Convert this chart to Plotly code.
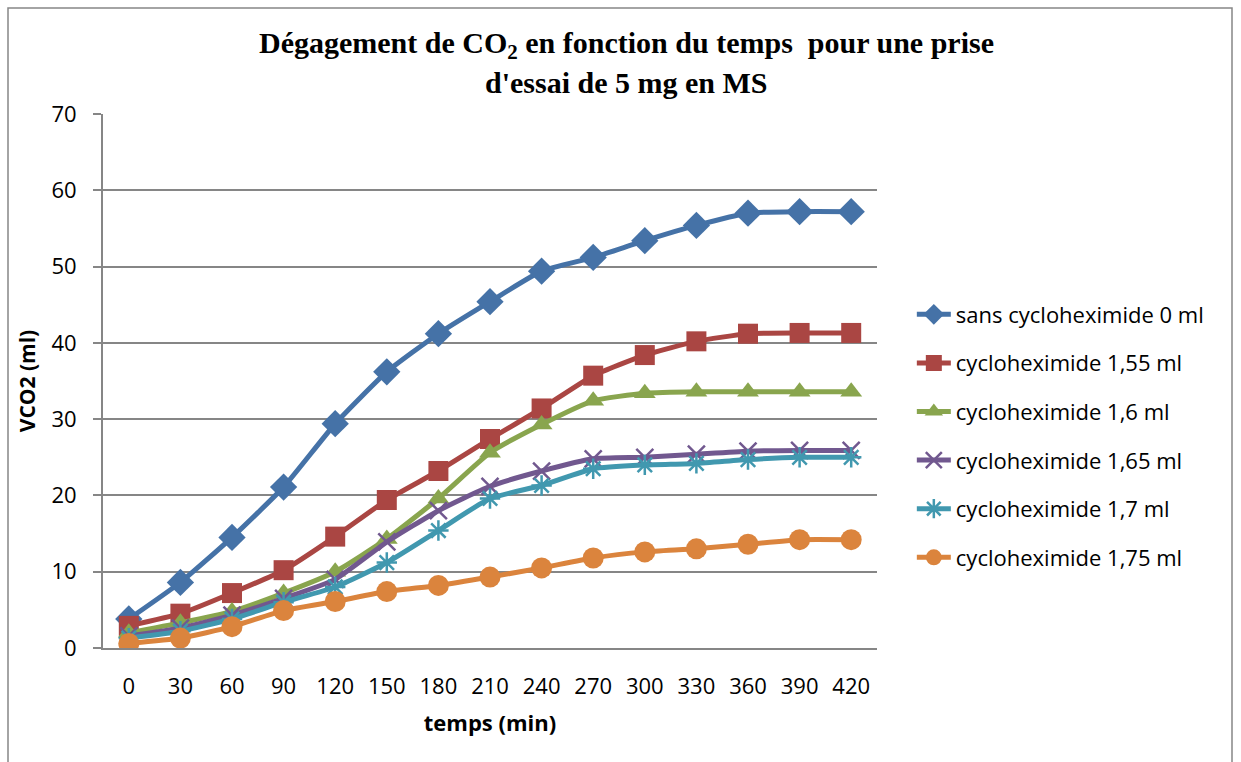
import plotly.graph_objects as go

temps = ["0", "30", "60", "90", "120", "150", "180", "210", "240", "270", "300", "330", "360", "390", "420"]

sans_0 = [3.8, 8.6, 14.5, 21.1, 29.4, 36.2, 41.2, 45.4, 49.4, 51.2, 53.4, 55.4, 57.0, 57.2, 57.2]
cyclo_155 = [2.9, 4.5, 7.2, 10.2, 14.6, 19.4, 23.2, 27.4, 31.4, 35.7, 38.4, 40.2, 41.2, 41.3, 41.3]
cyclo_160 = [2.0, 3.3, 4.8, 7.2, 10.0, 14.3, 19.6, 25.6, 29.3, 32.4, 33.4, 33.6, 33.6, 33.6, 33.6]
cyclo_165 = [1.6, 2.6, 4.3, 6.5, 9.0, 13.9, 18.0, 21.2, 23.2, 24.8, 25.0, 25.4, 25.8, 25.9, 25.9]
cyclo_170 = [1.3, 2.2, 3.8, 6.0, 8.0, 11.2, 15.4, 19.6, 21.3, 23.5, 24.0, 24.2, 24.7, 25.0, 25.0]
cyclo_175 = [0.6, 1.3, 2.8, 4.9, 6.1, 7.4, 8.2, 9.3, 10.5, 11.8, 12.6, 13.0, 13.6, 14.2, 14.2]

series_names = ["sans cycloheximide 0 ml", "cycloheximide 1,55 ml", "cycloheximide 1,6 ml",
                "cycloheximide 1,65 ml", "cycloheximide 1,7 ml", "cycloheximide 1,75 ml"]
series_values = [sans_0, cyclo_155, cyclo_160, cyclo_165, cyclo_170, cyclo_175]
colors = ["#4572A7", "#AA4643", "#89A54E", "#71588F", "#4198AF", "#DB843D"]
symbols = ["diamond", "square", "triangle-up", "x-thin-open", "asterisk-open", "circle"]
sizes = [21, 20, 19, 17, 17, 21]

title_lines = ["Dégagement de CO<sub>2</sub> en fonction du temps  pour une prise",
               "d'essai de 5 mg en MS"]

fig = go.Figure()
for i, (name, vals) in enumerate(zip(series_names, series_values)):
    mk = dict(symbol=symbols[i], size=sizes[i], color=colors[i])
    if symbols[i].endswith("open"):
        mk["line"] = dict(color=colors[i], width=2.5)
    fig.add_trace(go.Scatter(
        x=temps, y=vals, name=name, mode="lines+markers",
        line=dict(color=colors[i], width=5, shape="spline", smoothing=0.5),
        marker=mk, legendgroup=name,
    ))

grid = "#868686"
font_fam = "Open Sans, Liberation Sans, sans-serif"
fig.update_layout(
    width=1241, height=762,
    margin=dict(l=103, r=364, t=114, b=114),
    paper_bgcolor="white", plot_bgcolor="white",
    font=dict(family=font_fam, size=22, color="#000000"),
    showlegend=True,
    legend=dict(
        x=1.045, xanchor="left", y=0.397, yanchor="middle",
        font=dict(size=22, family=font_fam),
        tracegroupgap=17, itemwidth=34, bgcolor="rgba(0,0,0,0)",
    ),
    xaxis=dict(
        type="category", showgrid=False, showline=True, linecolor=grid, linewidth=2,
        ticks="", ticklabelstandoff=18, tickfont=dict(size=22),
        title=dict(text="<b>temps (min)</b>", font=dict(size=22), standoff=16),
        range=[-0.5, 14.5],
    ),
    yaxis=dict(
        range=[0, 70], dtick=10, showgrid=True, gridcolor=grid, gridwidth=2,
        showline=True, linecolor=grid, linewidth=2, ticks="outside", ticklen=8,
        tickcolor=grid, tickwidth=2, ticklabelstandoff=12, tickfont=dict(size=22),
        zeroline=False,
        title=dict(text="<b>VCO2 (ml)</b>", font=dict(size=21), standoff=10),
    ),
)

title_font = dict(family="Liberation Serif, Times New Roman, serif", size=30, color="#000000", weight="bold")
for j, (line, ypx) in enumerate(zip(title_lines, [45, 83])):
    fig.add_annotation(text=line, xref="paper", yref="paper",
                       x=(626 - 103) / 774, y=(648 - ypx) / 534,
                       xanchor="center", yanchor="middle", showarrow=False, font=title_font)

fig.add_shape(type="rect", xref="paper", yref="paper",
              x0=(8 - 103) / 774, x1=(1232 - 103) / 774,
              y0=(648 - 775) / 534, y1=(648 - 8) / 534,
              line=dict(color=grid, width=1.5), fillcolor="rgba(0,0,0,0)", layer="below")

fig.write_html("out.html")
